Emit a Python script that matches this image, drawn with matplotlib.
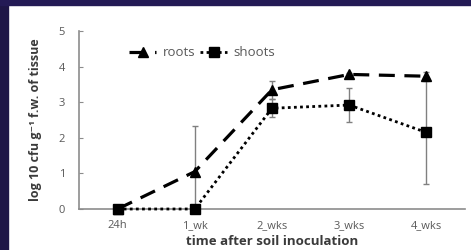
import matplotlib.pyplot as plt
from matplotlib.lines import Line2D
from matplotlib.patches import Rectangle

# Données
categories = ["24h", "1_wk", "2_wks", "3_wks", "4_wks"]
roots = [0.0, 1.05, 3.35, 3.78, 3.73]
roots_err_low = [0.0, 1.05, 0.25, 0.05, 0.12]
roots_err_high = [0.0, 1.28, 0.25, 0.05, 0.12]
shoots = [0.0, 0.0, 2.83, 2.92, 2.15]
shoots_err_low = [0.0, 0.0, 0.24, 0.47, 1.45]
shoots_err_high = [0.0, 0.0, 0.25, 0.48, 1.45]

plt.rcParams['font.family'] = ['Open Sans', 'DejaVu Sans']
fig = plt.figure(figsize=(4.71, 2.5), dpi=100)
fig.patch.set_facecolor("white")

# bordure sombre de l'image d'origine
fig.patches.append(Rectangle((0, 0), 8 / 471, 1, transform=fig.transFigure,
                             color="#1e1646", zorder=-1))
fig.patches.append(Rectangle((0, 1 - 5 / 250), 1, 5 / 250, transform=fig.transFigure,
                             color="#231a55", zorder=-1))

ax = fig.add_axes([79 / 471, 1 - 209 / 250, (465 - 79) / 471, (209 - 31) / 250])
x = list(range(len(categories)))

ax.errorbar(x, shoots, yerr=[shoots_err_low, shoots_err_high], fmt="none",
            ecolor="#808080", elinewidth=1, capsize=2, zorder=2)
ax.errorbar(x, roots, yerr=[roots_err_low, roots_err_high], fmt="none",
            ecolor="#808080", elinewidth=1, capsize=2, zorder=2)
ax.plot(x, shoots, color="black", linestyle=(0, (1, 1.2)), linewidth=2,
        marker="s", markersize=6.5, label="shoots", zorder=3, clip_on=False)
ax.plot(x, roots, color="black", linestyle=(0, (5, 3)), linewidth=2.3,
        marker="^", markersize=6.5, label="roots", zorder=4, clip_on=False)

ax.set_xlim(-0.5, 4.5)
ax.set_ylim(0, 5)
ax.set_xticks(x)
ax.set_xticklabels(categories)
ax.set_yticks(range(6))
for s in ["top", "right"]:
    ax.spines[s].set_visible(False)
for s in ["left", "bottom"]:
    ax.spines[s].set_color("#8c8c8c")
    ax.spines[s].set_linewidth(1.2)
ax.tick_params(axis="y", direction="in", length=3, color="#8c8c8c",
               labelsize=8, labelcolor="#595959", pad=10)
ax.tick_params(axis="x", length=0, labelsize=8, labelcolor="#595959", pad=8)

ax.set_ylabel("log 10 cfu g\u207b\u00b9 f.w. of tissue", fontsize=9,
              fontweight="bold", color="#3a3a3a", labelpad=12)
ax.set_xlabel("time after soil inoculation", fontsize=9.5, fontweight="bold",
              color="#3a3a3a", labelpad=3)

handles = [Line2D([], [], color="black", linestyle=(0, (5, 3)), linewidth=2.3,
                  marker="^", markersize=6.5),
           Line2D([], [], color="black", linestyle=(0, (1, 1.2)), linewidth=2,
                  marker="s", markersize=6.5)]
leg = ax.legend(handles, ["roots", "shoots"], loc="upper left",
                bbox_to_anchor=(0.1, 0.98), ncol=2, frameon=False,
                fontsize=9.5, handlelength=2, handletextpad=0.5,
                columnspacing=0.4)
for t in leg.get_texts():
    t.set_color("#595959")

fig.savefig("out.png", dpi=100)
